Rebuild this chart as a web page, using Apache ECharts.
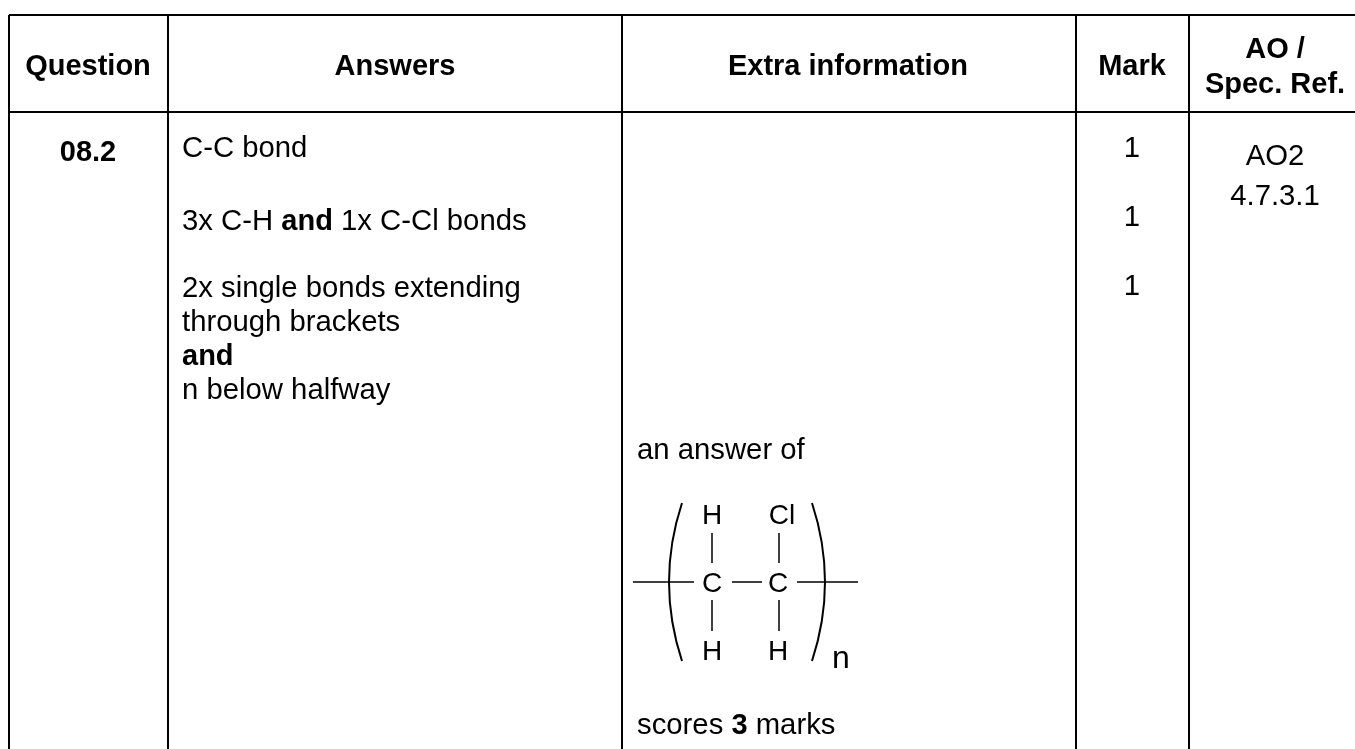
<!DOCTYPE html>
<html>
<head>
<meta charset="utf-8">
<style>
  html, body { margin: 0; padding: 0; background: #fff; }
  #main { width: 1355px; height: 749px; }
</style>
<script src="https://cdn.jsdelivr.net/npm/echarts@6/dist/echarts.min.js"></script>
</head>
<body>
<div id="main"></div>
<script>
// table text
var headers = ["Question", "Answers", "Extra information", "Mark", "AO /\nSpec. Ref."];
var question = "08.2";
var answers = [
  "C-C bond",
  "3x C-H {b|and} 1x C-Cl bonds",
  "2x single bonds extending\nthrough brackets\n{b|and}\nn below halfway"
];
var extra = ["an answer of", "scores {b|3} marks"];
var marks = ["1", "1", "1"];
var aoRef = ["AO2", "4.7.3.1"];
var atoms = ["H", "Cl", "C", "C", "H", "H"];
var subscript = "n";

// layout
var FONT = '"Liberation Sans", Arial, sans-serif';
var fs = 29.3, fsBold = 29;
var colX = [9, 168, 622, 1076, 1189];
var topY = 15, headBottom = 112;
var headCenter = [88, 395, 848, 1132, 1275];
var answerY = [149, 222, 272];
var markY = [149, 218, 287];
var aoY = [157, 197];
var extraY = [451, 726];
var atomPos = [[712, 516], [782, 516], [712, 584], [778, 584], [712, 652], [778, 652]];
var bonds = [
  [712, 533, 712, 563], [779, 533, 779, 563], [712, 600, 712, 631], [779, 600, 779, 631],
  [633, 582, 694, 582], [732, 582, 762, 582], [797, 582, 858, 582]
];
var brackets = [[682, 656], [812, 838]];

var rich = { b: { fontFamily: FONT, fontSize: fsBold, fontWeight: "bold", fill: "#000", lineHeight: 34 } };
function label(x, y, str, opts) {
  opts = opts || {};
  return {
    type: "text", x: x, y: y,
    style: {
      text: str, fill: "#000", fontFamily: FONT,
      fontSize: opts.size || (opts.bold ? fsBold : fs), fontWeight: opts.bold ? "bold" : "normal",
      align: opts.align || "left", verticalAlign: opts.va || "middle",
      lineHeight: opts.lh || 34, rich: rich
    }
  };
}
function rule(x1, y1, x2, y2, w) {
  return { type: "line", shape: { x1: x1, y1: y1, x2: x2, y2: y2 }, style: { stroke: "#000", lineWidth: w || 2 } };
}

var els = [];
// borders
els.push(rule(colX[0], topY, 1355, topY), rule(colX[0], headBottom, 1355, headBottom));
colX.forEach(function (x) { els.push(rule(x, topY, x, 749)); });
// header row
headers.forEach(function (h, i) {
  els.push(label(headCenter[i], 67, h, { bold: true, align: "center", lh: 35 }));
});
els.push(label(headCenter[0], 153, question, { bold: true, align: "center" }));
answers.forEach(function (a, i) { els.push(label(182, answerY[i], a, { va: i == 2 ? "top" : "middle" })); });
extra.forEach(function (a, i) { els.push(label(637, extraY[i], a)); });
marks.forEach(function (m, i) { els.push(label(headCenter[3], markY[i], m, { align: "center" })); });
aoRef.forEach(function (t, i) { els.push(label(headCenter[4], aoY[i], t, { align: "center" })); });
// molecule
atoms.forEach(function (a, i) { els.push(label(atomPos[i][0], atomPos[i][1], a, { align: "center", size: 28 })); });
bonds.forEach(function (b) { els.push(rule(b[0], b[1], b[2], b[3], 1.5)); });
brackets.forEach(function (b) {
  els.push({
    type: "bezierCurve",
    shape: { x1: b[0], y1: 503, x2: b[0], y2: 661, cpx1: b[1], cpy1: 582 },
    style: { fill: "none", stroke: "#000", lineWidth: 2 }
  });
});
els.push(label(841, 659, subscript, { align: "center", size: 32 }));

var myChart = echarts.init(document.getElementById("main"), null, { renderer: "canvas" });
myChart.setOption({ animation: false, backgroundColor: "#fff", graphic: { elements: els } });
</script>
</body>
</html>
